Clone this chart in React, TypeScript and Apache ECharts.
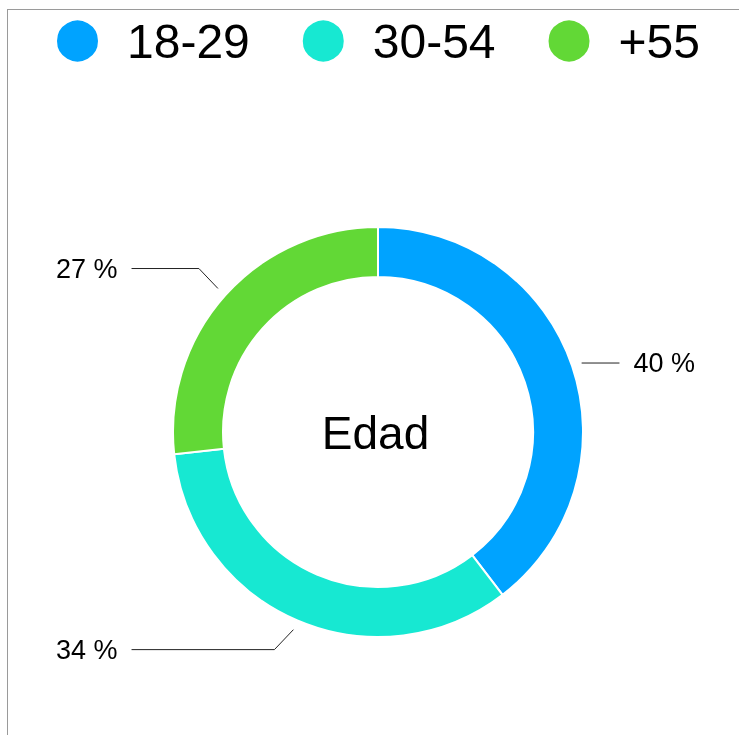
import React, { useEffect, useRef } from "react";
import * as echarts from "echarts";

const categories = ["18-29", "30-54", "+55"];
const values = [40, 34, 27];
const colors = ["#00a3ff", "#17e8d2", "#62d836"];
const centerTitle = "Edad";

const CX = 370;
const CY = 422;
const R_IN = 155;
const R_OUT = 205;
const R_LABEL = 215;

export default function App() {
  const ref = useRef<HTMLDivElement>(null);
  useEffect(() => {
    if (!ref.current) return;
    const chart = echarts.init(ref.current, undefined, { renderer: "svg" });
    const data = categories.map((name, i) => ({
      name,
      value: values[i],
      itemStyle: { color: colors[i] },
    }));
    const labelData = categories.map((name, i) => ({
      name,
      value: values[i],
    }));
    chart.setOption({
      animation: false,
      textStyle: { fontFamily: "'Liberation Sans', Arial, sans-serif" },
      legend: {
        data: categories,
        left: 47,
        top: 7,
        padding: 0,
        icon: "circle",
        itemWidth: 43,
        itemHeight: 43,
        itemGap: 51,
        selectedMode: false,
        textStyle: {
          fontSize: 48,
          lineHeight: 48,
          color: "#000",
          padding: [0, 0, 0, 23],
        },
      },
      graphic: [
        {
          type: "text",
          x: 367.5,
          y: 422.5,
          style: {
            text: centerTitle,
            fontSize: 46,
            fill: "#000",
            align: "center",
            verticalAlign: "middle",
            fontFamily: "'Liberation Sans', Arial, sans-serif",
          },
        },
      ],
      series: [
        {
          type: "pie",
          name: "Edad",
          radius: [R_IN, R_OUT],
          center: [CX, CY],
          startAngle: 90,
          clockwise: true,
          silent: true,
          label: { show: false },
          labelLine: { show: false },
          itemStyle: { borderColor: "#fff", borderWidth: 2 },
          emphasis: { disabled: true },
          data,
        },
        {
          type: "pie",
          name: "labels",
          radius: [R_OUT, R_LABEL],
          center: [CX, CY],
          startAngle: 90,
          clockwise: true,
          silent: true,
          itemStyle: { color: "rgba(0,0,0,0)", borderWidth: 0 },
          emphasis: { disabled: true },
          label: {
            show: true,
            position: "outside",
            alignTo: "edge",
            edgeDistance: 48,
            distanceToLabelLine: 14,
            overflow: "none",
            formatter: "{c} %",
            fontSize: 27,
            color: "#000",
          },
          labelLine: {
            show: true,
            length: 27,
            length2: 20,
            lineStyle: { color: "#222", width: 1 },
          },
          labelLayout: (params: any) => {
            const pts = params.labelLinePoints;
            if (!pts || pts.length < 3) return {};
            const s = pts[0];
            const e = pts[2];
            const hdir = e[0] < s[0] ? -1 : 1;
            const sinA = (s[1] - CY) / R_LABEL;
            const vdir = sinA < 0 ? -1 : 1;
            const slant = Math.abs(sinA) > 0.5 ? 19 : 0;
            const m = [s[0] + hdir * slant, s[1] + vdir * slant * 1.05];
            const end = [e[0], m[1]];
            return { y: m[1], labelLinePoints: [[s[0], s[1]], m, end] };
          },
          data: labelData,
        },
      ],
    });
    return () => chart.dispose();
  }, []);
  return (
    <div
      style={{
        position: "fixed",
        left: 7,
        top: 9,
        right: 0,
        bottom: 0,
        overflow: "hidden",
      }}
    >
      <div
        style={{
          borderTop: "1px solid #9a9a9a",
          borderLeft: "1px solid #9a9a9a",
          width: 760,
          height: 900,
        }}
      >
        <div ref={ref} style={{ width: 735, height: 900 }} />
      </div>
    </div>
  );
}
